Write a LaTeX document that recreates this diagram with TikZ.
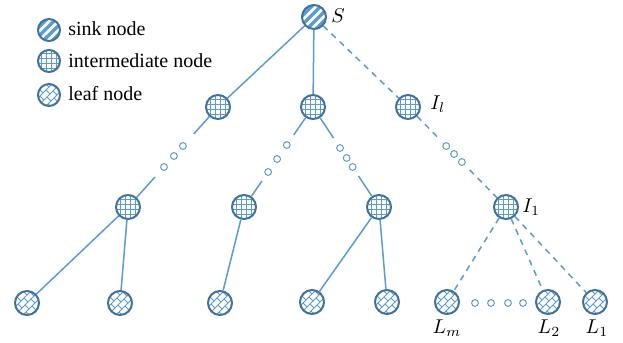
\documentclass[tikz,border=0pt]{standalone}
\usepackage{fontspec}
\setmainfont{Liberation Serif}
\usetikzlibrary{calc}

\definecolor{edgec}{HTML}{5B9BD5}
\definecolor{bordc}{HTML}{41719C}
\definecolor{patc}{HTML}{5B9BD5}

\tikzset{
  base/.style={circle, draw=bordc, line width=1pt, minimum size=12pt, inner sep=0pt, fill=white},
  sinknode/.style={base, path picture={
    \begin{scope}[shift={(path picture bounding box.center)}]
      \foreach \c in {-13,-4,5,14}
        \draw[patc, line width=1.6pt] (\c-20,20) -- (\c+20,-20);
    \end{scope}}},
  midnode/.style={base, path picture={
    \begin{scope}[shift={(path picture bounding box.center)}]
      \foreach \c in {-7.5,-2.5,2.5,7.5} {
        \draw[patc, line width=0.55pt] (\c,-14) -- (\c,14);
        \draw[patc, line width=0.55pt] (-14,\c) -- (14,\c);
      }
    \end{scope}}},
  leafnode/.style={base, path picture={
    \begin{scope}[shift={(path picture bounding box.center)}, patc, line width=0.4pt]
      \foreach \c in {-16,-8,0,8,16}
        \draw (\c/2+14,\c/2-14) -- (\c/2-14,\c/2+14);
      \foreach \ca/\cb/\k in {-16/-8/-4, -16/-8/8, -8/0/-10, -8/0/2, -8/0/14,
                              0/8/-4, 0/8/8, 8/16/-10, 8/16/2}
        \draw ({(\ca+\k)/2},{(\ca-\k)/2}) -- ({(\cb+\k)/2},{(\cb-\k)/2});
    \end{scope}}},
  link/.style={draw=edgec, line width=0.75pt},
  dlink/.style={link, dash pattern=on 3pt off 2.6pt},
  gapdot/.style={draw=edgec, line width=0.5pt, fill=white},
  lbl/.style={inner sep=0pt, font=\fontsize{10}{12}\selectfont}
}

\begin{document}
\begin{tikzpicture}[x=0.5pt, y=-0.5pt]
  \useasboundingbox (0,0) rectangle (623,343);

  % legend
  \node[sinknode, minimum size=11pt] (ks) at (49,30) {};
  \node[midnode,  minimum size=11pt] (ki) at (49,61) {};
  \node[leafnode, minimum size=11pt] (kl) at (49,95) {};
  \node[lbl, anchor=base west] (kst) at (68,35) {sink node};
  \node[lbl, anchor=base west] (kit) at (68,67) {intermediate node};
  \node[lbl, anchor=base west] (klt) at (68,100) {leaf node};

  % tree nodes
  \node[sinknode] (s) at (314,17) {};
  \node[midnode] (a1) at (218,107) {};
  \node[midnode] (a2) at (313,107) {};
  \node[midnode] (il) at (408,107) {};
  \node[midnode] (b1) at (128,207) {};
  \node[midnode] (b2) at (244,207) {};
  \node[midnode] (b3) at (379,207) {};
  \node[midnode] (i1) at (506,207) {};
  \node[leafnode] (c1) at (27,303) {};
  \node[leafnode] (c2) at (120,303) {};
  \node[leafnode] (c3) at (220,303) {};
  \node[leafnode] (c4) at (312,302) {};
  \node[leafnode] (c5) at (387,302) {};
  \node[leafnode] (lm) at (447,302) {};
  \node[leafnode] (l2) at (548,302) {};
  \node[leafnode] (l1) at (595,302) {};

  % labels
  \node[lbl, anchor=west] (st) at (331,16) {$S$};
  \node[lbl, anchor=west] (ilt) at (430,104) {$I_l$};
  \node[lbl, anchor=west] (i1t) at (522,207) {$I_1$};
  \node[lbl] (lmt) at (447,328) {$L_m$};
  \node[lbl] (l2t) at (549,328) {$L_2$};
  \node[lbl] (l1t) at (597,328) {$L_1$};

  % plain edges
  \draw[link] (s) -- (a1);
  \draw[link] (s) -- (a2);
  \draw[dlink] (s) -- (il);
  \draw[link] (b1) -- (c1);
  \draw[link] (b1) -- (c2);
  \draw[link] (b2) -- (c3);
  \draw[link] (b3) -- (c4);
  \draw[link] (b3) -- (c5);
  \draw[dlink] (i1) -- (lm);
  \draw[dlink] (i1) -- (l2);
  \draw[dlink] (i1) -- (l1);

  % edges interrupted by dots
  \foreach \u/\v/\ta/\tb/\tc/\td/\te/\sty in
      {a1/b1/.27/.39/.49/.60/.70/link,
       a2/b2/.28/.38/.52/.65/.74/link,
       a2/b3/.31/.41/.51/.60/.69/link,
       il/i1/.30/.39/.47/.55/.63/dlink} {
    \draw[\sty] (\u) -- ($(\u)!\ta!(\v)$);
    \draw[\sty] ($(\u)!\te!(\v)$) -- (\v);
    \foreach \t in {\tb,\tc,\td}
      \draw[gapdot] ($(\u)!\t!(\v)$) circle (3.4);
  }

  % dots between leaves
  \foreach \x in {475,491,508,523}
    \draw[gapdot] (\x,303) circle (3.4);
\end{tikzpicture}
\end{document}
